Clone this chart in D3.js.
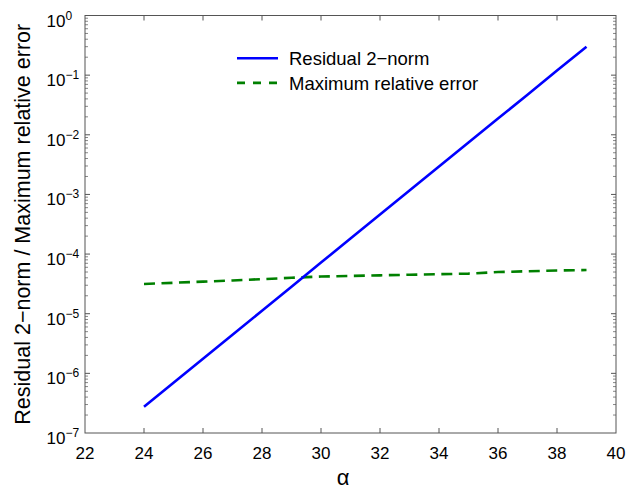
<!DOCTYPE html>
<html>
<head>
<meta charset="utf-8">
<script src="https://cdn.jsdelivr.net/npm/d3@7"></script>
<style>
  body { margin: 0; background: #fff; }
  text { font-family: "Liberation Sans", Arial, sans-serif; fill: #000; }
</style>
</head>
<body>
<script>
// alpha values (x) and the two series
const alpha = [24, 25, 26, 27, 28, 29, 30, 31, 32, 33, 34, 35, 36, 37, 38, 39]
const residual = [2.75e-7, 6.97e-7, 1.76e-6, 4.44e-6, 1.12e-5, 2.84e-5, 7.2e-5, 1.82e-4,
  4.6e-4, 1.16e-3, 2.93e-3, 7.4e-3, 1.87e-2, 4.7e-2, 0.12, 0.30]
const maxRelErr = [3.15e-5, 3.3e-5, 3.45e-5, 3.6e-5, 3.8e-5, 4.0e-5, 4.2e-5, 4.3e-5,
  4.4e-5, 4.5e-5, 4.6e-5, 4.7e-5, 5.0e-5, 5.15e-5, 5.3e-5, 5.4e-5]
const xTicks = [22, 24, 26, 28, 30, 32, 34, 36, 38, 40]
const yExps = [0, -1, -2, -3, -4, -5, -6, -7]
const seriesNames = ['Residual 2\u2212norm', 'Maximum relative error']

const W = 635, H = 490
const m = { left: 85, right: 19, top: 15.5, bottom: 57 }

const svg = d3.select('body').append('svg')
  .attr('width', W).attr('height', H)

const x = d3.scaleLinear().domain([22, 40]).range([m.left, W - m.right])
const y = d3.scaleLog().domain([1e-7, 1]).range([H - m.bottom, m.top])

const axisColor = '#555'
const gAxes = svg.append('g')

// box
gAxes.append('rect')
  .attr('x', x(22)).attr('y', y(1))
  .attr('width', x(40) - x(22)).attr('height', y(1e-7) - y(1))
  .attr('fill', 'none').attr('stroke', axisColor).attr('stroke-width', 1)

// x ticks, inward on bottom and top
const majorLen = 5, minorLen = 3
xTicks.slice(1, -1).forEach(t => {
  gAxes.append('line')
    .attr('x1', x(t)).attr('x2', x(t))
    .attr('y1', y(1e-7)).attr('y2', y(1e-7) - majorLen)
    .attr('stroke', axisColor)
  gAxes.append('line')
    .attr('x1', x(t)).attr('x2', x(t))
    .attr('y1', y(1)).attr('y2', y(1) + majorLen)
    .attr('stroke', axisColor)
})
gAxes.selectAll('.xlab')
  .data(xTicks)
  .join('text')
  .attr('class', 'xlab')
  .attr('x', d => x(d))
  .attr('y', y(1e-7) + 26)
  .attr('text-anchor', 'middle')
  .style('font-size', '17px')
  .text(d => d)

// y ticks, major + minor, inward on left and right
const yMinor = []
for (let e = -7; e < 0; e++) {
  for (let k = 2; k <= 9; k++) yMinor.push(k * Math.pow(10, e))
}
;[x(22), x(40)].forEach((x0, side) => {
  const dir = side === 0 ? 1 : -1
  yExps.slice(1, -1).forEach(e => {
    gAxes.append('line')
      .attr('x1', x0).attr('x2', x0 + dir * majorLen)
      .attr('y1', y(Math.pow(10, e))).attr('y2', y(Math.pow(10, e)))
      .attr('stroke', axisColor)
  })
  yMinor.forEach(v => {
    gAxes.append('line')
      .attr('x1', x0).attr('x2', x0 + dir * minorLen)
      .attr('y1', y(v)).attr('y2', y(v))
      .attr('stroke', axisColor).attr('stroke-width', 0.7)
  })
})

const ylab = gAxes.selectAll('.ylab')
  .data(yExps)
  .join('text')
  .attr('class', 'ylab')
  .attr('x', 46.5)
  .attr('y', d => y(Math.pow(10, d)) + 11)
  .style('font-size', '17px')
ylab.append('tspan').text('10')
ylab.append('tspan')
  .attr('dy', -7)
  .style('font-size', '12px')
  .text(d => d === 0 ? '0' : '\u2212' + (-d))

// axis titles
svg.append('text')
  .attr('transform', `translate(30, ${(y(1) + y(1e-7)) / 2}) rotate(-90)`)
  .attr('text-anchor', 'middle')
  .style('font-size', '21.5px')
  .text('Residual 2\u2212norm / Maximum relative error')

svg.append('text')
  .attr('x', 343)
  .attr('y', 485)
  .attr('text-anchor', 'middle')
  .style('font-size', '22px')
  .text('\u03b1')

// lines
const line = d3.line().x(d => x(d[0])).y(d => y(d[1]))
const gLines = svg.append('g')
gLines.append('path')
  .datum(alpha.map((a, i) => [a, maxRelErr[i]]))
  .attr('d', line)
  .attr('fill', 'none')
  .attr('stroke', '#008000')
  .attr('stroke-width', 2.6)
  .attr('stroke-dasharray', '11,6.5')
gLines.append('path')
  .datum(alpha.map((a, i) => [a, residual[i]]))
  .attr('d', line)
  .attr('fill', 'none')
  .attr('stroke', '#0000ff')
  .attr('stroke-width', 2.6)

// legend
const legend = svg.append('g')
const legendStyles = [
  { color: '#0000ff', dash: null },
  { color: '#008000', dash: '8,8' }
]
seriesNames.forEach((name, i) => {
  const ly = 58.3 + i * 24.6
  legend.append('line')
    .attr('x1', 237).attr('x2', 278)
    .attr('y1', ly).attr('y2', ly)
    .attr('stroke', legendStyles[i].color)
    .attr('stroke-width', 2.6)
    .attr('stroke-dasharray', legendStyles[i].dash)
  legend.append('text')
    .attr('x', 289).attr('y', ly + 6.7)
    .style('font-size', '18.5px')
    .text(name)
})
</script>
</body>
</html>
